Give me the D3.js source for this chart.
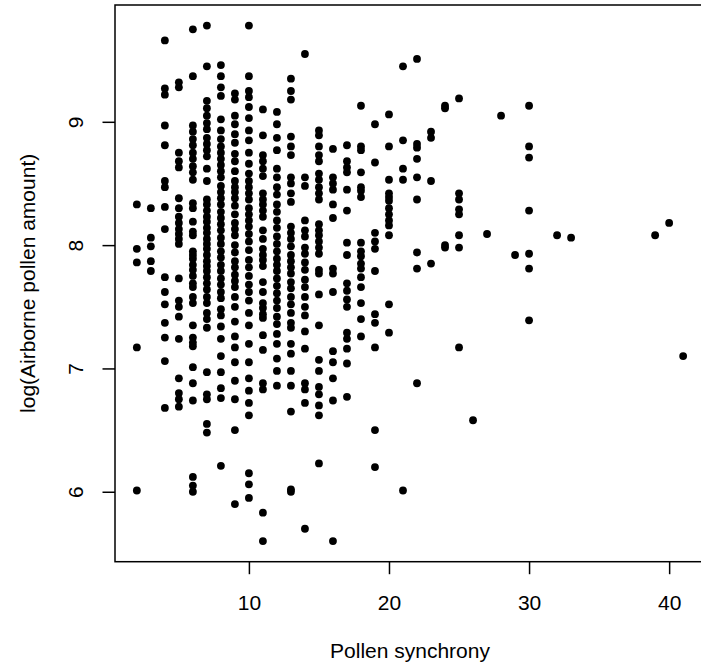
<!DOCTYPE html>
<html>
<head>
<meta charset="utf-8">
<script src="https://cdn.jsdelivr.net/npm/d3@7"></script>
<style>
  body { margin: 0; background: #fff; }
  .axis-label { font-family: "Liberation Sans", Arial, sans-serif; font-size: 21px; fill: #000; }
</style>
</head>
<body>
<div id="chart-area"></div>
<script>

// Pollen synchrony values (x), one entry per column of points
var synchronyValues = [2, 3, 4, 5, 6, 7, 8, 9, 10, 11, 12, 13, 14, 15, 16, 17, 18, 19, 20,
    21, 22, 23, 24, 25, 26, 27, 28, 29, 30, 32, 33, 39, 40, 41];

// log(Airborne pollen amount) for each synchrony value above
var logPollenValues = [
    [8.33, 7.97, 7.86, 7.17, 6.01],
    [8.30, 8.06, 7.99, 7.87, 7.79],
    [9.66, 9.27, 9.22, 8.97, 8.81, 8.52, 8.47, 8.31, 8.13, 7.74, 7.62, 7.52, 7.37, 7.25, 7.06, 6.68],
    [9.32, 9.28, 8.75, 8.68, 8.63, 8.38, 8.30, 8.23, 8.18, 8.13, 8.09, 8.05, 8.01, 7.73, 7.55, 7.50,
        7.42, 7.24, 6.92, 6.80, 6.75, 6.69],
    [9.75, 9.37, 8.97, 8.92, 8.86, 8.81, 8.75, 8.70, 8.64, 8.59, 8.53, 8.34, 8.30, 8.19, 8.11, 8.08,
        7.95, 7.92, 7.89, 7.84, 7.80, 7.75, 7.69, 7.66, 7.58, 7.53, 7.35, 7.25, 7.21, 7.18, 7.01, 6.88,
        6.74, 6.12, 6.05, 6.00],
    [9.78, 9.45, 9.17, 9.11, 9.05, 8.99, 8.94, 8.87, 8.82, 8.77, 8.72, 8.62, 8.52, 8.37, 8.33, 8.28,
        8.23, 8.19, 8.14, 8.10, 8.05, 8.01, 7.97, 7.92, 7.87, 7.83, 7.79, 7.74, 7.69, 7.64, 7.58, 7.53,
        7.45, 7.40, 7.33, 6.97, 6.79, 6.75, 6.55, 6.48],
    [9.46, 9.37, 9.28, 9.21, 9.02, 8.93, 8.86, 8.80, 8.75, 8.70, 8.65, 8.60, 8.55, 8.48, 8.43, 8.38,
        8.33, 8.27, 8.22, 8.17, 8.12, 8.06, 8.01, 7.95, 7.90, 7.84, 7.79, 7.73, 7.68, 7.62, 7.57, 7.48,
        7.43, 7.34, 7.24, 7.10, 6.97, 6.84, 6.76, 6.21],
    [9.23, 9.18, 9.05, 8.98, 8.90, 8.83, 8.74, 8.68, 8.60, 8.52, 8.47, 8.43, 8.38, 8.32, 8.25, 8.18,
        8.13, 8.08, 8.00, 7.94, 7.87, 7.82, 7.76, 7.71, 7.66, 7.58, 7.50, 7.38, 7.26, 7.17, 7.05, 6.90,
        6.75, 6.50, 5.90],
    [9.78, 9.37, 9.25, 9.20, 9.12, 9.03, 8.93, 8.85, 8.75, 8.66, 8.58, 8.52, 8.47, 8.42, 8.37, 8.30,
        8.25, 8.20, 8.15, 8.09, 8.03, 7.96, 7.88, 7.82, 7.75, 7.68, 7.62, 7.55, 7.45, 7.35, 7.20, 7.05,
        6.92, 6.82, 6.72, 6.62, 6.15, 6.06, 5.95],
    [9.10, 8.89, 8.73, 8.68, 8.62, 8.56, 8.42, 8.37, 8.33, 8.28, 8.23, 8.12, 8.05, 7.97, 7.92, 7.88,
        7.83, 7.70, 7.62, 7.53, 7.49, 7.44, 7.41, 7.27, 7.15, 6.88, 6.83, 5.83, 5.60],
    [9.08, 8.98, 8.87, 8.77, 8.62, 8.55, 8.47, 8.41, 8.33, 8.27, 8.20, 8.14, 8.07, 8.01, 7.95, 7.89,
        7.84, 7.79, 7.73, 7.67, 7.61, 7.55, 7.49, 7.42, 7.36, 7.28, 7.20, 7.08, 6.98, 6.86],
    [9.35, 9.25, 9.18, 8.88, 8.80, 8.73, 8.55, 8.50, 8.42, 8.35, 8.15, 8.10, 8.05, 7.99, 7.92, 7.87,
        7.82, 7.77, 7.70, 7.65, 7.58, 7.52, 7.45, 7.37, 7.33, 7.20, 7.12, 6.98, 6.86, 6.65, 6.02, 6.00],
    [9.55, 8.55, 8.48, 8.20, 8.12, 8.07, 7.98, 7.93, 7.86, 7.80, 7.72, 7.66, 7.58, 7.50, 7.43, 7.30,
        7.16, 6.88, 6.83, 6.72, 5.70],
    [8.93, 8.89, 8.80, 8.73, 8.68, 8.58, 8.53, 8.47, 8.42, 8.37, 8.17, 8.12, 8.08, 8.03, 7.98, 7.93,
        7.80, 7.77, 7.60, 7.35, 7.07, 6.98, 6.85, 6.79, 6.70, 6.62, 6.23],
    [8.78, 8.55, 8.50, 8.45, 8.33, 8.22, 7.81, 7.77, 7.62, 7.14, 7.05, 6.92, 6.74, 5.60],
    [8.81, 8.68, 8.63, 8.59, 8.45, 8.28, 8.02, 7.92, 7.69, 7.63, 7.56, 7.50, 7.29, 7.24, 7.16, 7.04, 6.77],
    [9.13, 8.80, 8.77, 8.59, 8.47, 8.44, 8.39, 8.02, 7.95, 7.91, 7.85, 7.81, 7.74, 7.66, 7.53, 7.40, 7.26],
    [8.98, 8.67, 8.10, 8.03, 7.97, 7.79, 7.44, 7.37, 7.17, 6.50, 6.20],
    [9.06, 8.80, 8.53, 8.42, 8.39, 8.36, 8.30, 8.25, 8.20, 8.16, 8.08, 7.52, 7.29],
    [9.45, 8.85, 8.62, 8.53, 6.01],
    [9.51, 8.82, 8.79, 8.70, 8.55, 8.37, 7.94, 7.81, 6.88],
    [8.92, 8.87, 8.52, 7.85],
    [9.13, 9.11, 8.00, 7.98],
    [9.19, 8.42, 8.37, 8.29, 8.25, 8.08, 7.98, 7.17],
    [6.58],
    [8.09],
    [9.05],
    [7.92],
    [9.13, 8.80, 8.71, 8.28, 7.93, 7.81, 7.39],
    [8.08],
    [8.06],
    [8.08],
    [8.18],
    [7.10]
];

var xTickValues = [10, 20, 30, 40];
var yTickValues = [6, 7, 8, 9];

var xTitle = "Pollen synchrony";
var yTitle = "log(Airborne pollen amount)";


/*
 * ScatterChart - Object constructor function
 * @param _parentElement 	-- the HTML element in which to draw the visualization
 */

ScatterChart = function(_parentElement){
    this.parentElement = _parentElement;
    this.displayData = [];

    this.initVis();
}


ScatterChart.prototype.initVis = function(){
    var vis = this;

    vis.margin = { top: 5, right: 0, bottom: 110.3, left: 115 };

    // plot region runs a little past the right edge of the window
    vis.width = 590;
    vis.height = 672 - vis.margin.top - vis.margin.bottom;

    vis.svg = d3.select("#" + vis.parentElement).append("svg")
        .attr("width", 701)
        .attr("height", 672)
        .style("display", "block")
      .append("g")
        .attr("transform", "translate(" + vis.margin.left + "," + vis.margin.top + ")");

    // flatten the columns into points
    synchronyValues.forEach(function(s, i){
        logPollenValues[i].forEach(function(v){
            vis.displayData.push({ x: s, y: v });
        });
    });

    // R style axis range: data range widened by 4% on each side
    var xExt = d3.extent(vis.displayData, function(d){ return d.x; });
    var yExt = d3.extent(vis.displayData, function(d){ return d.y; });
    var xPad = (xExt[1] - xExt[0]) * 0.04,
        yPad = (yExt[1] - yExt[0]) * 0.04;

    vis.x = d3.scaleLinear()
        .domain([xExt[0] - xPad, xExt[1] + xPad])
        .range([0, vis.width]);

    vis.y = d3.scaleLinear()
        .domain([yExt[0] - yPad, yExt[1] + yPad])
        .range([vis.height, 0]);

    vis.xAxis = d3.axisBottom(vis.x)
        .tickValues(xTickValues)
        .tickFormat(d3.format("d"))
        .tickSize(12.5)
        .tickPadding(10);

    vis.yAxis = d3.axisLeft(vis.y)
        .tickValues(yTickValues)
        .tickFormat(d3.format("d"))
        .tickSize(12.5)
        .tickPadding(10);

    vis.updateVis();
}


ScatterChart.prototype.updateVis = function(){
    var vis = this;

    // Points
    vis.svg.selectAll(".dot")
        .data(vis.displayData)
        .enter().append("circle")
        .attr("class", "dot")
        .attr("cx", function(d){ return vis.x(d.x); })
        .attr("cy", function(d){ return vis.y(d.y); })
        .attr("r", 3.9)
        .attr("fill", "#000");

    // Box
    vis.svg.append("rect")
        .attr("x", 0)
        .attr("y", 0)
        .attr("width", vis.width)
        .attr("height", vis.height)
        .attr("fill", "none")
        .attr("stroke", "#000")
        .attr("stroke-width", 1.5);

    // x axis (no domain line, the box draws it)
    var gx = vis.svg.append("g")
        .attr("class", "x-axis axis")
        .attr("transform", "translate(0," + vis.height + ")")
        .call(vis.xAxis);
    gx.select(".domain").remove();
    gx.selectAll(".tick line").attr("stroke", "#000").attr("stroke-width", 1.5);
    gx.selectAll(".tick text")
        .attr("class", "axis-label")
        .attr("y", 41)
        .attr("dy", "0.35em");

    // y axis, labels turned parallel to the axis
    var gy = vis.svg.append("g")
        .attr("class", "y-axis axis")
        .call(vis.yAxis);
    gy.select(".domain").remove();
    gy.selectAll(".tick line").attr("stroke", "#000").attr("stroke-width", 1.5);
    gy.selectAll(".tick text")
        .attr("class", "axis-label")
        .attr("x", null)
        .attr("text-anchor", "middle")
        .attr("transform", "translate(-39.5,0) rotate(-90)")
        .attr("dy", "0.35em");

    gx.attr("font-family", null).attr("font-size", null);
    gy.attr("font-family", null).attr("font-size", null);

    // Axis titles
    vis.svg.append("text")
        .attr("class", "axis-label")
        .attr("text-anchor", "middle")
        .attr("x", vis.width / 2)
        .attr("y", vis.height + 89)
        .attr("dy", "0.35em")
        .text(xTitle);

    vis.svg.append("text")
        .attr("class", "axis-label")
        .attr("text-anchor", "middle")
        .attr("transform", "translate(-87.5," + (vis.height / 2) + ") rotate(-90)")
        .attr("dy", "0.35em")
        .text(yTitle);
}


var chart = new ScatterChart("chart-area");

</script>
</body>
</html>
